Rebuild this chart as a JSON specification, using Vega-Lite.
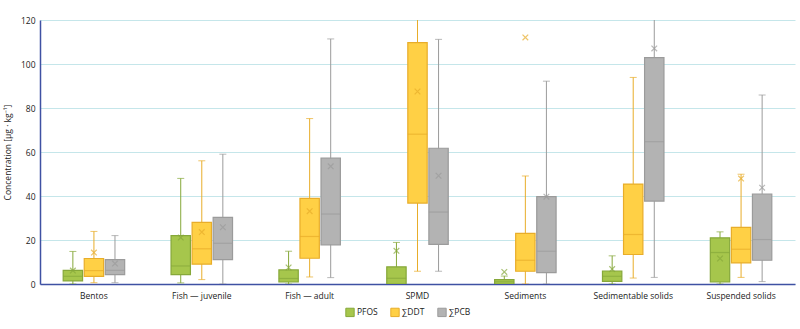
{
  "$schema": "https://vega.github.io/schema/vega-lite/v6.json",
  "width": 755,
  "height": 264,
  "autosize": {"type": "none"},
  "padding": {"left": 40, "top": 20, "right": 5, "bottom": 45},
  "background": "white",
  "config": {
    "font": "Open Sans",
    "view": {"stroke": null},
    "axis": {"labelFont": "Open Sans", "titleFont": "Open Sans", "labelFontSize": 8.5, "titleFontSize": 8.5, "labelColor": "#222", "titleColor": "#222", "titleFontWeight": "normal"},
    "legend": {"labelFont": "Open Sans", "labelFontSize": 8.5, "labelColor": "#222"}
  },
  "data": {"values": [
    {"cat": "Bentos", "sub": "PFOS", "lo": 0, "q1": 1.4, "med": 3.5, "q3": 6.2, "hi": 14.8, "mean": 6.1},
    {"cat": "Bentos", "sub": "∑DDT", "lo": 0.6, "q1": 3.5, "med": 6.1, "q3": 11.6, "hi": 23.9, "mean": 14.3},
    {"cat": "Bentos", "sub": "∑PCB", "lo": 0.6, "q1": 4.3, "med": 6.2, "q3": 11.1, "hi": 22, "mean": 9.3},
    {"cat": "Fish — juvenile", "sub": "PFOS", "lo": 0.5, "q1": 4.3, "med": 8.2, "q3": 22, "hi": 48, "mean": 21.1},
    {"cat": "Fish — juvenile", "sub": "∑DDT", "lo": 2, "q1": 9, "med": 16, "q3": 28, "hi": 56, "mean": 23.6},
    {"cat": "Fish — juvenile", "sub": "∑PCB", "lo": 0, "q1": 11.1, "med": 18.5, "q3": 30.3, "hi": 59, "mean": 25.8},
    {"cat": "Fish — adult", "sub": "PFOS", "lo": 0, "q1": 0.9, "med": 2.5, "q3": 6.4, "hi": 14.9, "mean": 7.5},
    {"cat": "Fish — adult", "sub": "∑DDT", "lo": 3.2, "q1": 11.7, "med": 21.6, "q3": 38.9, "hi": 75.2, "mean": 33.1},
    {"cat": "Fish — adult", "sub": "∑PCB", "lo": 2.9, "q1": 17.8, "med": 31.8, "q3": 57.2, "hi": 111.4, "mean": 53.5},
    {"cat": "SPMD", "sub": "PFOS", "lo": 0, "q1": 0, "med": 2.6, "q3": 7.8, "hi": 18.9, "mean": 15.1},
    {"cat": "SPMD", "sub": "∑DDT", "lo": 5.8, "q1": 36.8, "med": 68.1, "q3": 109.7, "hi": 135, "mean": 87.5},
    {"cat": "SPMD", "sub": "∑PCB", "lo": 5.8, "q1": 18, "med": 32.7, "q3": 61.7, "hi": 111.2, "mean": 49.2},
    {"cat": "Sediments", "sub": "PFOS", "lo": 0, "q1": 0, "med": 1, "q3": 2, "hi": 3.6, "mean": 5.5},
    {"cat": "Sediments", "sub": "∑DDT", "lo": 0, "q1": 5.8, "med": 10.8, "q3": 23, "hi": 49.1, "mean": 112.1},
    {"cat": "Sediments", "sub": "∑PCB", "lo": 0, "q1": 5.2, "med": 14.9, "q3": 39.7, "hi": 92.2, "mean": 39.7},
    {"cat": "Sedimentable solids", "sub": "PFOS", "lo": 0, "q1": 1.2, "med": 3.5, "q3": 5.9, "hi": 12.8, "mean": 6.8},
    {"cat": "Sedimentable solids", "sub": "∑DDT", "lo": 2.7, "q1": 13.4, "med": 22.5, "q3": 45.4, "hi": 93.9, "mean": null},
    {"cat": "Sedimentable solids", "sub": "∑PCB", "lo": 3, "q1": 37.7, "med": 64.7, "q3": 102.9, "hi": 140, "mean": 107.1},
    {"cat": "Suspended solids", "sub": "PFOS", "lo": 0, "q1": 0.9, "med": 14.3, "q3": 21, "hi": 23.7, "mean": 11.6},
    {"cat": "Suspended solids", "sub": "∑DDT", "lo": 3, "q1": 9.6, "med": 15.8, "q3": 25.7, "hi": 49.9, "mean": 47.9},
    {"cat": "Suspended solids", "sub": "∑PCB", "lo": 1.1, "q1": 10.8, "med": 20.2, "q3": 40.9, "hi": 85.9, "mean": 43.8}
  ]},
  "encoding": {
    "x": {"field": "cat", "type": "nominal", "sort": null, "title": null,
      "scale": {"paddingInner": 0.43, "paddingOuter": 0.215},
      "axis": {"labelAngle": 0, "ticks": false, "domainColor": "#3f51a3", "domainWidth": 1.5, "labelPadding": 7}},
    "xOffset": {"field": "sub", "type": "nominal", "sort": ["PFOS", "∑DDT", "∑PCB"], "scale": {"paddingInner": 0.08}}
  },
  "layer": [
    {
      "mark": {"type": "rule", "clip": true, "strokeWidth": 1},
      "encoding": {
        "y": {"field": "lo", "type": "quantitative", "scale": {"domain": [0, 120], "nice": false},
          "title": "Concentration [µg · kg⁻¹]",
          "axis": {"values": [0, 20, 40, 60, 80, 100, 120], "ticks": false, "grid": true, "gridColor": "#c5e6ea", "gridWidth": 1, "domainColor": "#3f51a3", "domainWidth": 1.5, "labelPadding": 5, "titlePadding": 8}},
        "y2": {"field": "hi"},
        "stroke": {"field": "sub", "type": "nominal", "scale": {"domain": ["PFOS", "∑DDT", "∑PCB"], "range": ["#86a83a", "#e8ad2a", "#9b9b9b"]}}
      }
    },
    {
      "mark": {"type": "tick", "clip": true, "size": 7, "thickness": 1},
      "encoding": {
        "y": {"field": "hi", "type": "quantitative"},
        "color": {"field": "sub", "type": "nominal", "scale": {"range": ["#86a83a", "#e8ad2a", "#9b9b9b"]}, "legend": null}
      }
    },
    {
      "mark": {"type": "tick", "clip": true, "size": 7, "thickness": 1},
      "encoding": {
        "y": {"field": "lo", "type": "quantitative"},
        "color": {"field": "sub", "type": "nominal", "legend": null}
      }
    },
    {
      "mark": {"type": "bar", "clip": true, "strokeWidth": 1.2},
      "encoding": {
        "y": {"field": "q1", "type": "quantitative"},
        "y2": {"field": "q3"},
        "fill": {"field": "sub", "type": "nominal", "scale": {"domain": ["PFOS", "∑DDT", "∑PCB"], "range": ["#a6c64c", "#ffd045", "#b3b3b3"]},
          "legend": {"title": null, "orient": "none", "legendX": 305, "legendY": 287, "direction": "horizontal", "symbolType": "square", "symbolSize": 70, "symbolStrokeWidth": 1, "columnPadding": 10, "labelOffset": 2}},
        "stroke": {"field": "sub", "type": "nominal"}
      }
    },
    {
      "mark": {"type": "tick", "clip": true, "thickness": 1.2},
      "encoding": {
        "y": {"field": "med", "type": "quantitative"},
        "color": {"field": "sub", "type": "nominal", "legend": null}
      }
    },
    {
      "mark": {"type": "point", "clip": true, "shape": "M-1,-1L1,1M-1,1L1,-1", "filled": false, "size": 32, "strokeWidth": 1.2},
      "encoding": {
        "y": {"field": "mean", "type": "quantitative"},
        "stroke": {"field": "sub", "type": "nominal"}
      }
    }
  ]
}
